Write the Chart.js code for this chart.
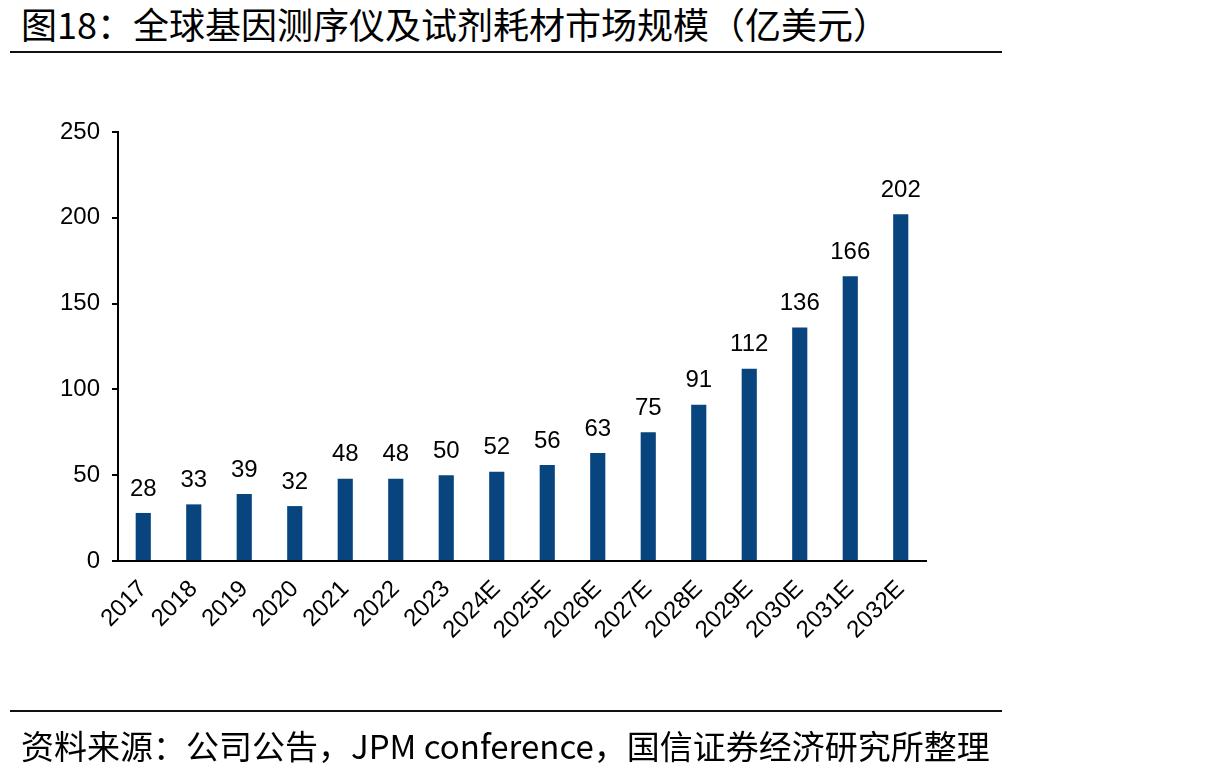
<!DOCTYPE html>
<html>
<head>
<meta charset="utf-8">
<script src="https://cdn.jsdelivr.net/npm/chart.js@4.4.1/dist/chart.umd.min.js"></script>
<style>
  html, body { margin: 0; padding: 0; background: #fff; }
  body { width: 1217px; height: 777px; position: relative; overflow: hidden; }
  .title {
    position: absolute; left: 21px; top: 0px;
    font-family: "Noto Sans CJK SC", sans-serif; font-size: 36px; line-height: 46px;
    color: #000; white-space: nowrap;
  }
  .rule { position: absolute; left: 10px; width: 992px; height: 2px; background: #111; }
  .source {
    position: absolute; left: 21px; top: 722px;
    font-family: "Noto Sans CJK SC", sans-serif; font-size: 33px; line-height: 46px;
    color: #000; white-space: nowrap;
  }
  #chart { position: absolute; left: 0; top: 0; }
</style>
</head>
<body>
  <div class="title">图18：全球基因测序仪及试剂耗材市场规模（亿美元）</div>
  <div class="rule" style="top:51px"></div>
  <canvas id="chart" width="1217" height="777"></canvas>
  <div class="rule" style="top:710px"></div>
  <div class="source">资料来源：公司公告，JPM conference，国信证券经济研究所整理</div>

  <script>
    const years = ["2017", "2018", "2019", "2020", "2021", "2022", "2023", "2024E",
                   "2025E", "2026E", "2027E", "2028E", "2029E", "2030E", "2031E", "2032E"];
    const marketSize = [28, 33, 39, 32, 48, 48, 50, 52, 56, 63, 75, 91, 112, 136, 166, 202];
    const yTicks = [0, 50, 100, 150, 200, 250];

    const font = "Liberation Sans, Arial, sans-serif";

    // value labels over each bar
    const barLabels = {
      id: "barLabels",
      afterDatasetsDraw(chart) {
        const ctx = chart.ctx;
        const meta = chart.getDatasetMeta(0);
        ctx.save();
        ctx.fillStyle = "#000";
        ctx.font = "24px " + font;
        ctx.textAlign = "center";
        ctx.textBaseline = "bottom";
        meta.data.forEach(function (bar, i) {
          ctx.fillText(marketSize[i], bar.x, bar.y - 12);
        });
        ctx.restore();
      }
    };

    Chart.defaults.font.family = font;
    Chart.defaults.color = "#000";

    new Chart(document.getElementById("chart"), {
      type: "bar",
      data: {
        labels: years,
        datasets: [{
          data: marketSize,
          backgroundColor: "#08457E",
          barPercentage: 0.3,
          categoryPercentage: 1.0
        }]
      },
      options: {
        responsive: false,
        animation: false,
        layout: { padding: { left: 48, top: 132, right: 291, bottom: 116 } },
        plugins: { legend: { display: false }, tooltip: { enabled: false } },
        scales: {
          x: {
            afterFit: function (s) { s.height = 100; },
            grid: { display: false },
            border: { display: true, color: "#000", width: 2 },
            ticks: { font: { size: 24 }, minRotation: 45, maxRotation: 45, padding: 6 }
          },
          y: {
            min: 0,
            max: 250,
            afterFit: function (s) { s.width = 70; },
            afterBuildTicks: function (s) { s.ticks = yTicks.map(function (v) { return { value: v }; }); },
            grid: { drawOnChartArea: false, drawTicks: true, tickLength: 6, color: "#000", lineWidth: 2 },
            border: { display: true, color: "#000", width: 2 },
            ticks: { font: { size: 24 }, padding: 12 }
          }
        }
      },
      plugins: [barLabels]
    });
  </script>
</body>
</html>
